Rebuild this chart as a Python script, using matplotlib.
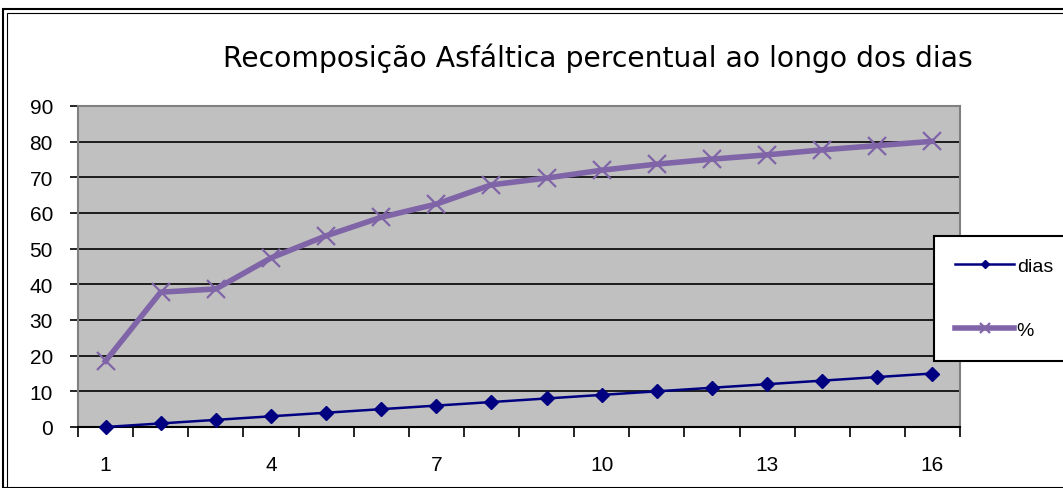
import matplotlib
matplotlib.use('Agg')
import matplotlib.pyplot as plt
from matplotlib.patches import Rectangle
import numpy as np

plt.rcParams['font.family'] = ['Liberation Sans', 'DejaVu Sans']

# data
categorias = list(range(1, 17))
dias = [0, 1, 2, 3, 4, 5, 6, 7, 8, 9, 10, 11, 12, 13, 14, 15]
percentual = [18.5, 37.8, 38.7, 47.4, 53.6, 58.8, 62.5, 67.9,
              69.8, 72.0, 73.7, 75.1, 76.3, 77.7, 78.9, 80.1]
rotulos_x = ['1', '4', '7', '10', '13', '16']
rotulos_y = [0, 10, 20, 30, 40, 50, 60, 70, 80, 90]

fig = plt.figure(figsize=(10.63, 4.89), dpi=100)
W, H = 1063, 489
ax = fig.add_axes([78 / W, 1 - 428 / H, (960 - 78) / W, (428 - 107) / H])
ax.set_facecolor('#C0C0C0')

x = np.array(categorias)
ax.plot(x, dias, color='#000080', lw=1.8, marker='D', ms=7, label='dias',
        zorder=3, clip_on=False)
ax.plot(x, percentual, color='#8064A8', lw=4, marker='x', ms=13, mew=1.6,
        label='%', zorder=3, clip_on=False)

ax.set_xlim(0.5, 16.5)
ax.set_ylim(0, 90)
ax.set_yticks(rotulos_y)
ax.yaxis.grid(True, color='black', lw=1.2)
ax.set_axisbelow(True)

ax.set_xticks([int(r) for r in rotulos_x])
ax.set_xticklabels(rotulos_x)
ax.set_xticks(np.arange(0.5, 17.0, 1.0), minor=True)
ax.tick_params(axis='x', which='major', length=0, pad=20, labelsize=15)
ax.tick_params(axis='x', which='minor', length=7, width=1.2, color='black')
ax.tick_params(axis='y', length=6, width=1.2, labelsize=15, pad=12)

for s in ['top', 'right', 'left']:
    ax.spines[s].set_color('#808080')
    ax.spines[s].set_linewidth(1.5)
ax.spines['bottom'].set_color('black')
ax.spines['bottom'].set_linewidth(1.5)

fig.text(598 / W, 1 - 58 / H, 'Recomposição Asfáltica percentual ao longo dos dias',
         ha='center', va='center', fontsize=20.3, family=['DejaVu Sans'])

leg = fig.legend(loc='upper left', bbox_to_anchor=(934 / W, 1 - 237 / H),
                 frameon=True, fancybox=False, fontsize=14, borderpad=1.1,
                 labelspacing=2.4, handlelength=3.0, handletextpad=0.15,
                 markerscale=0.6, borderaxespad=0, framealpha=1)
leg.get_frame().set_edgecolor('black')
leg.get_frame().set_linewidth(1.5)

# chart frame
fig.patches.append(Rectangle((3 / W, 0), 1.2, 1 - 10 / H, transform=fig.transFigure,
                             fill=False, edgecolor='black', lw=1.5))
fig.patches.append(Rectangle((7 / W, 0), 1.2, 1 - 14 / H, transform=fig.transFigure,
                             fill=False, edgecolor='black', lw=0.8))

fig.savefig('out.png', dpi=100)
